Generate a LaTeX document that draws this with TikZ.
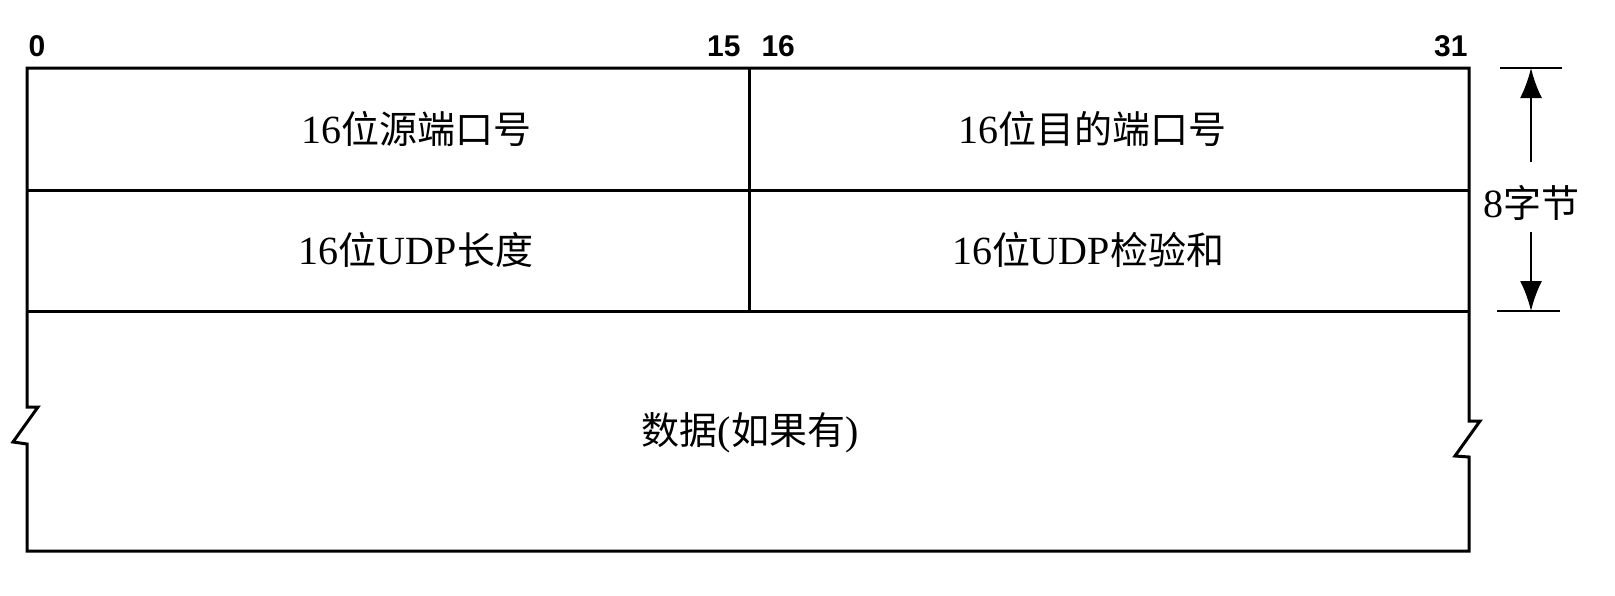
\documentclass[tikz,border=0pt]{standalone}
\usepackage{fontspec}
\setmainfont{Liberation Serif}
\newfontfamily\cjk[Scale=0.95]{Noto Sans CJK SC}
\newfontfamily\numfont{Liberation Sans}
\usetikzlibrary{arrows.meta,positioning}

\begin{document}
\begin{tikzpicture}[x=1pt,y=-1pt,line width=3pt,
    field/.style={font=\fontsize{40}{40}\selectfont,inner sep=0pt},
    bitno/.style={font=\numfont\bfseries\fontsize{30}{30}\selectfont,inner sep=0pt},
    dim/.style={line width=2.2pt,-{Latex[length=30pt,width=22pt]}}]
	\useasboundingbox (0,0) rectangle (1615,595);
	% header box and data part with break marks
	\draw (27,68) -- (1469,68) -- (1469,421) -- (1480,421) -- (1455,456) -- (1469,457)
	   -- (1469,551) -- (27,551) -- (27,444) -- (13,442) -- (38,407) -- (27,407) -- cycle;
	\draw (27,190) -- (1469,190);
	\draw (27,311) -- (1469,311);
	\draw (749,68) -- (749,311);
	\node[bitno,anchor=base west] (b0)  at (27,56)   {0};
	\node[bitno,anchor=base east] (b15) at (742,56)  {15};
	\node[bitno,anchor=base west] (b16) at (760,56)  {16};
	\node[bitno,anchor=base east] (b31) at (1469,56) {31};
	\node[field] (src)  at (416,129)  {16{\cjk 位源端口号}};
	\node[field] (dst)  at (1092,129) {16{\cjk 位目的端口号}};
	\node[field] (len)  at (416,250)  {16{\cjk 位}UDP{\cjk 长度}};
	\node[field] (sum)  at (1088,250) {16{\cjk 位}UDP{\cjk 检验和}};
	\node[field] (data) at (750,433)  {{\cjk 数据}({\cjk 如果有})};
	% 8 bytes
	\coordinate (hdtop) at (1531,68);
	\coordinate (hdbot) at (1531,311);
	\draw[line width=2.2pt] (1500,68) -- (1562,68);
	\draw[line width=2.2pt] (1497,311) -- (1560,311);
	\node[field] (hdlen) at (1531,203) {8{\cjk 字节}};
	\draw[dim,shorten <=22pt] (hdlen) -- (hdtop);
	\draw[dim,shorten <=10pt] (hdlen) -- (hdbot);
\end{tikzpicture}
\end{document}
